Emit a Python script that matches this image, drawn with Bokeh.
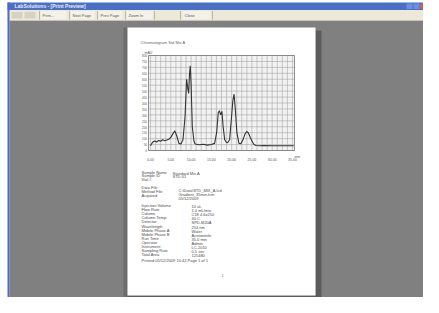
from bokeh.plotting import figure
from bokeh.models import Range1d
from bokeh.core.properties import value
from bokeh.embed import file_html
from bokeh.resources import INLINE
import numpy as np

# ---------------- chart data ----------------
rt_min = [0.0, 0.5, 1.0, 1.5, 2.0, 2.5, 3.0, 3.5, 4.0, 4.5,
          5.0, 5.5, 6.0, 6.5, 7.0, 7.5, 8.0, 8.5, 8.9, 9.2,
          9.4, 9.6, 9.8, 10.0, 10.3, 10.7, 11.0, 12.0, 13.0, 14.0,
          15.0, 15.8, 16.3, 16.7, 17.0, 17.3, 17.6, 17.9, 18.3, 18.7,
          19.0, 19.5, 19.9, 20.3, 20.6, 20.9, 21.3, 21.8, 22.3, 22.8,
          23.3, 23.7, 24.1, 24.6, 25.0, 25.5, 26.0, 27.0, 28.0, 30.0,
          32.0, 34.0, 35.3]
signal_mau = [40, 70, 80, 72, 85, 78, 90, 82, 88, 95,
              110, 140, 165, 120, 60, 55, 90, 280, 600, 520,
              480, 640, 713, 560, 200, 80, 55, 48, 52, 45,
              50, 60, 150, 320, 334, 300, 330, 200, 90, 70,
              65, 90, 250, 420, 474, 350, 150, 60, 58, 90,
              140, 160, 150, 110, 80, 50, 42, 40, 41, 40,
              40, 40, 40]
x_tick_values = [0, 5, 10, 15, 20, 25, 30, 35]
x_tick_labels = ["0.00", "5.00", "10.00", "15.00", "20.00", "25.00", "30.00", "35.00"]
y_tick_values = [0, 50, 100, 150, 200, 250, 300, 350, 400, 450, 500, 550, 600, 650, 700, 750, 800]
y_tick_labels = [str(v) for v in y_tick_values]
chart_title = "Chromatogram  Std Mix A"

window_title = "LabSolutions - [Print Preview]"
toolbar_labels = ["Print...", "Next Page", "Prev Page", "Zoom In", "Close"]

block1_labels = ["Sample Name", "Sample ID", "Vial #"]
block1_values = ["Standard Mix A", "STD-01"]
block2_labels = ["Data File", "Method File", "Acquired"]
block2_values = ["C:\\Data\\STD_MIX_A.lcd", "Gradient_35min.lcm", "05/12/2009"]
block3_labels = ["Injection Volume", "Flow Rate", "Column", "Column Temp.",
                 "Detector", "Wavelength", "Mobile Phase A", "Mobile Phase B",
                 "Run Time", "Operator", "Instrument", "Sampling Rate", "Total Area"]
block3_values = ["10 uL", "1.0 mL/min", "C18 4.6x250", "40 C",
                 "SPD-M20A", "254 nm", "Water", "Acetonitrile",
                 "35.0 min", "Admin", "LC-2010", "0.5 sec", "125480"]
footer_text = "Printed 05/12/2009 10:42  Page 1 of 1"
page_number = "1"

assert len(rt_min) == len(signal_mau)

FONT = value("Liberation Sans")

# ---------------- figure (page pixel coordinates, y down) ----------------
W, H = 423, 297
X0, X1 = 8, 8 + W
Y0, Y1 = 8, 8 + H
p = figure(width=W, height=H, output_backend="svg", toolbar_location=None,
           x_range=Range1d(X0, X1), y_range=Range1d(Y1, Y0),
           min_border=0, outline_line_color=None, background_fill_color="white",
           border_fill_color="white")
p.axis.visible = False
p.grid.visible = False

def box(l, r, t, b, color, alpha=1.0):
    p.quad(left=l, right=r, top=t, bottom=b, fill_color=color, line_color=None, fill_alpha=alpha)

# window chrome
box(15, 440, 10, 17.5, "#4a6fc6")
box(15, 440, 17.5, 28, "#ece9d8")
box(15, 440, 27.5, 28.5, "#c9c5b4")
box(17, 440, 28.5, 306, "#808080")
box(15, 17, 10, 306, "#4a6cc4")
p.text(x=[22], y=[13.8], text=[window_title], text_color="#e8ecf8", text_font_size="5px",
       text_baseline="middle", text_font=FONT, text_font_style="bold")
box(414, 420, 11, 16.5, "#6d8fe0")
box(421, 427, 11, 16.5, "#6d8fe0")
box(428, 434, 11, 16.5, "#d8603f")
# toolbar buttons
tb_x = [50, 80, 108, 136, 192]
tb_w = [24, 22, 22, 24, 26]
for xx, ww in zip(tb_x, tb_w):
    box(xx - 2, xx + ww, 18.5, 27, "#f4f2e8")
p.segment(x0=[47, 77, 105, 133, 162, 188, 220], y0=[18.5] * 7,
          x1=[47, 77, 105, 133, 162, 188, 220], y1=[27] * 7, line_color="#aca899", line_width=0.8)
box(19, 30, 19.5, 26, "#d6d2c0")
box(32, 43, 19.5, 26, "#d6d2c0")
p.text(x=tb_x, y=[22.8] * len(tb_x), text=toolbar_labels, text_font_size="4px",
       text_baseline="middle", text_color="#555555", text_font=FONT)

# page with shadow
box(131, 135, 35, 306, "#6c6c6c")
box(323, 329, 38, 306, "#5c5c5c")
box(135, 323, 303, 306, "#5c5c5c")
box(135, 323, 35, 303, "#ffffff")

# ---------------- chromatogram via extra ranges ----------------
L, R, T, B = 156, 302, 63, 158
t_lo, t_hi = -0.5, 35.5
v_lo, v_hi = 0, 800
ppm = (R - L) / (t_hi - t_lo)
ppv = (B - T) / (v_hi - v_lo)
p.extra_x_ranges = {"t": Range1d(t_lo - (L - X0) / ppm, t_hi + (X1 - R) / ppm)}
p.extra_y_ranges = {"v": Range1d(v_lo - (Y1 - B) / ppv, v_hi + (T - Y0) / ppv)}
kw = dict(x_range_name="t", y_range_name="v")

minor_t = np.arange(0, 35.01, 1.25)
p.quad(left=[t_lo], right=[t_hi], bottom=[v_lo], top=[v_hi], fill_color="#f2f2f2",
       line_color=None, **kw)
p.segment(x0=minor_t, y0=[v_lo] * len(minor_t), x1=minor_t, y1=[v_hi] * len(minor_t),
          line_color="#a8a8a8", line_width=0.6, **kw)
p.segment(x0=[t_lo] * len(y_tick_values), y0=y_tick_values, x1=[t_hi] * len(y_tick_values),
          y1=y_tick_values, line_color="#a8a8a8", line_width=0.6, **kw)
p.quad(left=[t_lo], right=[t_hi], bottom=[v_lo], top=[v_hi], fill_color=None,
       line_color="#777777", line_width=0.8, **kw)
p.line(x=rt_min, y=signal_mau, line_color="#333333", line_width=1.1, **kw)

p.text(x=x_tick_values, y=[v_lo] * len(x_tick_values), text=x_tick_labels, text_font_size="3.5px",
       text_align="center", text_baseline="top", y_offset=7, text_color="#555555", text_font=FONT, **kw)
p.text(x=[t_lo] * len(y_tick_values), y=y_tick_values, text=y_tick_labels, text_font_size="3px",
       text_align="right", text_baseline="middle", x_offset=-1.5, text_color="#555555", text_font=FONT, **kw)
p.text(x=[t_lo], y=[v_hi], text=["mAU"], text_font_size="3.5px", text_align="center",
       text_baseline="bottom", y_offset=-1, text_color="#555555", text_font=FONT, **kw)
p.text(x=[t_hi], y=[v_lo], text=["min"], text_font_size="3.5px", text_align="left",
       text_baseline="top", y_offset=4, text_color="#555555", text_font=FONT, **kw)
p.text(x=[t_lo], y=[v_hi], text=[chart_title], text_font_size="4px", text_align="left",
       text_baseline="middle", x_offset=-8, y_offset=-13, text_color="#666666", text_font=FONT, **kw)

# ---------------- report text blocks ----------------
def rows(labels, x, y_start, step, size="4px", color="#4a4a4a"):
    p.text(x=[x] * len(labels), y=[y_start + i * step for i in range(len(labels))], text=labels,
           text_font_size=size, text_baseline="middle", text_color=color, text_font=FONT)

rows(block1_labels, 149, 179.5, 3.8)
rows(block1_values, 180, 180.5, 3.8)
rows(block2_labels, 149, 195, 4)
rows(block2_values, 186, 198, 4)
rows(block3_labels, 149, 213, 4.1)
rows(block3_values, 199, 214, 4.1)
rows([footer_text], 149, 267.5, 4)
rows([page_number], 229, 283, 4, color="#777777")

open("out.html", "w").write(file_html(p, INLINE))
